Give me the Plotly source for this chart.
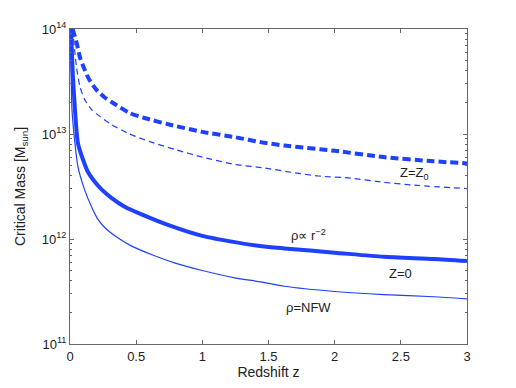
import plotly.graph_objects as go

# thick dashed: rho ~ r^-2, Z=Z0
z_iso_z0 = [0.02, 0.05, 0.075, 0.105, 0.14, 0.2, 0.26, 0.32, 0.45, 0.57, 0.75, 1.0, 1.245, 1.45, 1.62, 2.0, 2.37, 2.75, 3.0]
m_iso_z0 = [10**14.0, 10**13.87, 10**13.73, 10**13.63, 10**13.53, 10**13.42, 10**13.35, 10**13.30, 10**13.20, 10**13.15,
            10**13.09, 10**13.02, 10**12.97, 10**12.92, 10**12.89, 10**12.84, 10**12.78, 10**12.74, 10**12.72]

# thin dashed: NFW, Z=Z0
z_nfw_z0 = [0.02, 0.035, 0.05, 0.075, 0.11, 0.165, 0.30, 0.45, 0.62, 0.80, 1.0, 1.245, 1.45, 1.70, 1.875, 2.12, 2.37, 2.625, 3.0]
m_nfw_z0 = [10**14.0, 10**13.8, 10**13.63, 10**13.45, 10**13.33, 10**13.23, 10**13.10, 10**13.00, 10**12.92, 10**12.85,
            10**12.78, 10**12.71, 10**12.68, 10**12.63, 10**12.60, 10**12.58, 10**12.54, 10**12.51, 10**12.48]

# thick solid: rho ~ r^-2, Z=0
z_iso_0 = [0.0075, 0.02, 0.0375, 0.06, 0.1, 0.135, 0.19, 0.24, 0.315, 0.41, 0.55, 0.75, 1.0, 1.245, 1.45, 1.62, 2.0, 2.37, 2.75, 3.0]
m_iso_0 = [10**14.0, 10**13.6, 10**13.23, 10**12.91, 10**12.75, 10**12.64, 10**12.54, 10**12.47, 10**12.39, 10**12.31,
           10**12.23, 10**12.13, 10**12.03, 10**11.97, 10**11.93, 10**11.91, 10**11.87, 10**11.83, 10**11.81, 10**11.79]

# thin solid: NFW, Z=0
z_nfw_0 = [0.0, 0.008, 0.015, 0.0375, 0.06, 0.11, 0.165, 0.21, 0.27, 0.375, 0.47, 0.62, 0.795, 1.0, 1.245, 1.45, 1.62,
           2.0, 2.37, 2.75, 3.0]
m_nfw_0 = [10**14.0, 10**13.6, 10**13.23, 10**12.91, 10**12.69, 10**12.47, 10**12.30, 10**12.19, 10**12.10, 10**12.00,
           10**11.93, 10**11.85, 10**11.77, 10**11.70, 10**11.63, 10**11.59, 10**11.55, 10**11.50, 10**11.47,
           10**11.45, 10**11.43]

y_ticks = [1e11, 1e12, 1e13, 1e14]
y_tick_text = ["10<sup>11</sup>", "10<sup>12</sup>", "10<sup>13</sup>", "10<sup>14</sup>"]

blue = "rgb(30,64,255)"
fig = go.Figure()
fig.add_trace(go.Scatter(x=z_iso_z0, y=m_iso_z0, mode="lines",
                         line=dict(color=blue, width=4, dash="8px,4px", shape="spline", smoothing=0.6)))
fig.add_trace(go.Scatter(x=z_nfw_z0, y=m_nfw_z0, mode="lines",
                         line=dict(color=blue, width=1.2, dash="6px,4px", shape="spline", smoothing=0.6)))
fig.add_trace(go.Scatter(x=z_iso_0, y=m_iso_0, mode="lines",
                         line=dict(color=blue, width=4, shape="spline", smoothing=0.6)))
fig.add_trace(go.Scatter(x=z_nfw_0, y=m_nfw_0, mode="lines",
                         line=dict(color=blue, width=1.2, shape="spline", smoothing=0.6)))

txt = dict(family="Liberation Sans, Arial", size=13, color="#222")
fig.add_annotation(x=2.6, y=12.62, text="Z=Z<sub>0</sub>", showarrow=False, font=txt)
fig.add_annotation(x=1.8, y=12.04, text="\u03c1\u221d r<sup>\u22122</sup>", showarrow=False, font=txt)
fig.add_annotation(x=2.5, y=11.67, text="Z=0", showarrow=False, font=txt)
fig.add_annotation(x=1.8, y=11.35, text="\u03c1=NFW", showarrow=False, font=txt)

axis_common = dict(showline=True, linecolor="#666", linewidth=1, mirror="ticks",
                   ticks="inside", tickcolor="#666", ticklen=4, showgrid=False, zeroline=False,
                   tickfont=dict(family="Liberation Sans, Arial", size=13, color="#222"),
                   title_font=dict(family="Liberation Sans, Arial", size=14, color="#222"))

fig.update_xaxes(range=[0, 3], tickvals=[0, 0.5, 1, 1.5, 2, 2.5, 3],
                 ticktext=["0", "0.5", "1", "1.5", "2", "2.5", "3"],
                 title_text="Redshift z", title_standoff=0, **axis_common)
fig.update_yaxes(type="log", range=[11, 14], tickvals=y_ticks, ticktext=y_tick_text,
                 minor=dict(ticks="inside", ticklen=2, tickcolor="#666", dtick="D1"),
                 title_text="Critical Mass [M<sub>sun</sub>]", title_standoff=12, **axis_common)

# the page body adds an 8px offset, so the figure is shrunk to match
fig.update_layout(width=508, height=380, showlegend=False,
                  margin=dict(l=59, r=49, t=21, b=44),
                  plot_bgcolor="white", paper_bgcolor="white")
fig.write_html("out.html")
